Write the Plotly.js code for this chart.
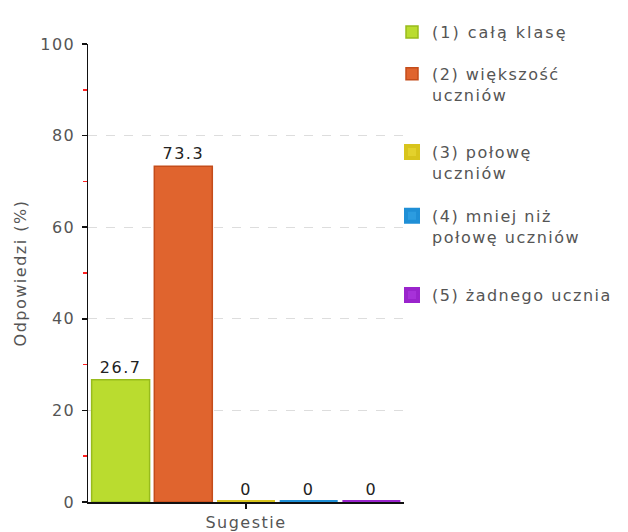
<!DOCTYPE html>
<html>
<head>
<meta charset="utf-8">
<script src="https://cdn.plot.ly/plotly-3.0.1.min.js"></script>
<style>
html,body{margin:0;padding:0;background:#fff;}
svg text{letter-spacing:1.5px;}
svg text.legendtext, svg text.legendtext tspan{letter-spacing:2px;}
</style>
</head>
<body>
<div id="chart" style="width:628px;height:532px;"></div>
<script>
const category = ['Sugestie'];
const seriesNames = ['(1) całą klasę', '(2) większość<br>uczniów', '(3) połowę<br>uczniów', '(4) mniej niż<br>połowę uczniów', '(5) żadnego ucznia'];
const seriesValues = [26.7, 73.3, 0, 0, 0];
const seriesLabels = ['26.7', '73.3', '0', '0', '0'];
const fillColors = ['#badc2f', '#e0642e', '#e3d12c', '#2c9ce0', '#a731d9'];
const lineColors = ['#98bb1c', '#c44c1a', '#d8c41c', '#1f8fd6', '#9a24cc'];
const legendY = [1.063, 0.972, 0.801, 0.662, 0.489];

const font = "DejaVu Sans, Verdana, sans-serif";
const fs = 16;
const traces = seriesNames.map((name, i) => ({
  type: 'bar',
  name: name,
  x: category,
  y: [seriesValues[i]],
  text: [seriesLabels[i]],
  textposition: 'outside',
  cliponaxis: false,
  textfont: {family: font, size: fs, color: '#222'},
  marker: {color: fillColors[i], line: {color: lineColors[i], width: seriesValues[i] === 0 ? 4 : 1.5}},
  legend: i === 0 ? 'legend' : 'legend' + (i + 1),
  hoverinfo: 'none'
}));

const layout = {
  width: 628, height: 532,
  margin: {l: 88, r: 223, t: 44, b: 30},
  paper_bgcolor: '#fff', plot_bgcolor: '#fff',
  font: {family: font, size: fs, color: '#555'},
  barmode: 'group',
  bargap: 0.008,
  bargroupgap: 0.075,
  showlegend: true,
  xaxis: {
    type: 'category',
    showline: true, linecolor: '#111', linewidth: 1.5,
    ticks: 'outside', tickcolor: '#111', ticklen: 5, tickwidth: 1.5,
    showgrid: false, zeroline: false,
    layer: 'below traces',
    tickfont: {family: font, size: fs, color: '#555'},
    fixedrange: true
  },
  yaxis: {
    range: [0, 100], dtick: 20, tick0: 0,
    showline: true, linecolor: '#111', linewidth: 1.5,
    ticks: 'outside', tickcolor: '#111', ticklen: 5, tickwidth: 1.5,
    ticklabelstandoff: 3,
    minor: {dtick: 10, ticks: 'outside', tickcolor: '#ff2020', ticklen: 4, tickwidth: 1.5, showgrid: false},
    showgrid: true, gridcolor: '#dddddd', griddash: 'dash', gridwidth: 1,
    zeroline: false,
    layer: 'below traces',
    tickfont: {family: font, size: fs, color: '#555'},
    title: {text: 'Odpowiedzi (%)', font: {family: font, size: fs, color: '#555'}, standoff: 9},
    fixedrange: true
  }
};
const legendBase = {
  x: 0.959, xanchor: 'left', yanchor: 'top',
  bgcolor: 'rgba(0,0,0,0)', borderwidth: 0,
  font: {family: font, size: fs, color: '#555'},
  valign: 'top', itemwidth: 30
};
legendY.forEach((y, i) => {
  const key = i === 0 ? 'legend' : 'legend' + (i + 1);
  layout[key] = Object.assign({}, legendBase, {y: y});
});

Plotly.newPlot('chart', traces, layout, {displayModeBar: false, staticPlot: true});
</script>
</body>
</html>
